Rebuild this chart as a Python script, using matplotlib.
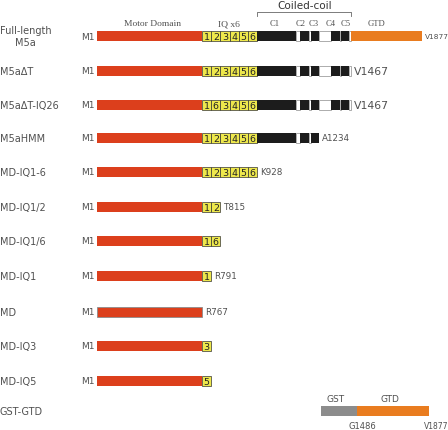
import matplotlib.pyplot as plt

# constructs, top to bottom
names = ['Full-length\nM5a', 'M5a\u0394T', 'M5a\u0394T-IQ26', 'M5aHMM', 'MD-IQ1-6',
         'MD-IQ1/2', 'MD-IQ1/6', 'MD-IQ1', 'MD', 'MD-IQ3', 'MD-IQ5']
iq_boxes = ['123456', '123456', '163456', '123456', '123456',
            '12', '16', '1', '', '3', '5']
tails = ['full', 'dT', 'dT', 'hmm', '', '', '', '', '', '', '']
end_labels = ['V1877', 'V1467', 'V1467', 'A1234', 'K928',
              'T815', '', 'R791', 'R767', '', '']

# schematic domain blocks after the IQ motifs (kind, colour code, width)
tail_blocks = [('C1', 'k', 39), ('g', 'w', 4), ('C2', 'k', 9), ('g', 'w', 2),
               ('C3', 'k', 8), ('g', 'w', 12), ('C4', 'k', 9), ('g', 'w', 1),
               ('C5', 'k', 8), ('g', 'w', 2), ('GTD', 'o', 71)]
tail_len = {'full': 11, 'dT': 10, 'hmm': 5, '': 0}
header_labels = ['Motor Domain', 'IQ x6', 'C1', 'C2', 'C3', 'C4', 'C5', 'GTD']

gst_parts = ['GST', 'GTD']
gst_widths = [36, 72]
gst_ends = ['G1486', 'V1877']

RED = '#dc3f1c'
YEL = '#eee84c'
BLK = '#1c1c1c'
ORG = '#e97c1f'
GRY = '#8c8c8c'
TXT = '#505050'

row_y = [37, 72, 106, 139, 173, 208, 242, 277, 313, 347, 382]
header_x = [153, 229, 275, 301, 314, 331, 346, 376]
x0 = 97
motor_w = 105
iq_w = 9.2
h = 10

fig = plt.figure(figsize=(4.48, 4.31), dpi=100)
ax = fig.add_axes([0, 0, 1, 1])
ax.set_xlim(0, 448)
ax.set_ylim(431, 0)
ax.axis('off')

for i, name in enumerate(names):
    y = row_y[i]
    if '\n' in name:
        ax.text(0, y, name, ha='left', va='center', fontsize=7, color=TXT,
                multialignment='center', linespacing=1.25)
    else:
        ax.text(0, y, name, ha='left', va='center', fontsize=7, color=TXT)
    ax.text(95, y, 'M1', ha='right', va='center', fontsize=6.5, color=TXT)
    edge = GRY if name == 'MD' else 'none'
    ax.barh(y, motor_w, left=x0, height=h, color=RED, edgecolor=edge, linewidth=0.6)
    x = x0 + motor_w
    for ch in iq_boxes[i]:
        ax.barh(y, iq_w, left=x, height=h, color=YEL, edgecolor='#333333', linewidth=0.5)
        ax.text(x + iq_w / 2, y + 0.5, ch, ha='center', va='center', fontsize=6.8, color='#222222')
        x += iq_w
    for kind, col, w in tail_blocks[:tail_len[tails[i]]]:
        if col == 'k':
            ax.barh(y, w, left=x, height=h, color=BLK, linewidth=0)
        elif col == 'w':
            ax.barh(y, w, left=x, height=h, color='white', edgecolor=GRY, linewidth=0.5)
        else:
            ax.barh(y, w, left=x, height=h, color=ORG, linewidth=0)
        x += w
    lab = end_labels[i]
    if lab:
        fs = 7.8 if lab == 'V1467' else (5.3 if lab == 'V1877' else 6.3)
        ax.text(x + 3, y, lab, ha='left', va='center', fontsize=fs, color=TXT)

# header
hy = 24
for lab, hx in zip(header_labels, header_x):
    fs = 6.8 if len(lab) > 3 else 6.2
    ax.text(hx, hy, lab, fontsize=fs, color=TXT, family='Liberation Serif',
            ha='center', va='center')
cc_start = x0 + motor_w + 6 * iq_w
cc_end = cc_start + sum(w for k, c, w in tail_blocks[:10])
ax.plot([cc_start, cc_start, cc_end, cc_end], [17, 13, 13, 17], color='#666666', lw=0.6)
ax.text((cc_start + cc_end) / 2, 6, 'Coiled-coil', ha='center', va='center',
        fontsize=7.5, color='#333333')

# GST-GTD fusion
gy = 412
ax.text(0, gy, 'GST-GTD', ha='left', va='center', fontsize=7, color=TXT)
x = 321
cols = [GRY, ORG]
for j, part in enumerate(gst_parts):
    ax.barh(gy, gst_widths[j], left=x, height=h, color=cols[j], linewidth=0)
    ax.text(x + gst_widths[j] / 2 - 3, gy - 12, part, ha='center', va='center',
            fontsize=6.5, color=TXT)
    x += gst_widths[j]
ax.text(321 + gst_widths[0] + 5, gy + 15, gst_ends[0], ha='center', va='center',
        fontsize=6, color=TXT)
ax.text(x + 7, gy + 15, gst_ends[1], ha='center', va='center', fontsize=5.5, color=TXT)

fig.savefig('out.png', dpi=100)
